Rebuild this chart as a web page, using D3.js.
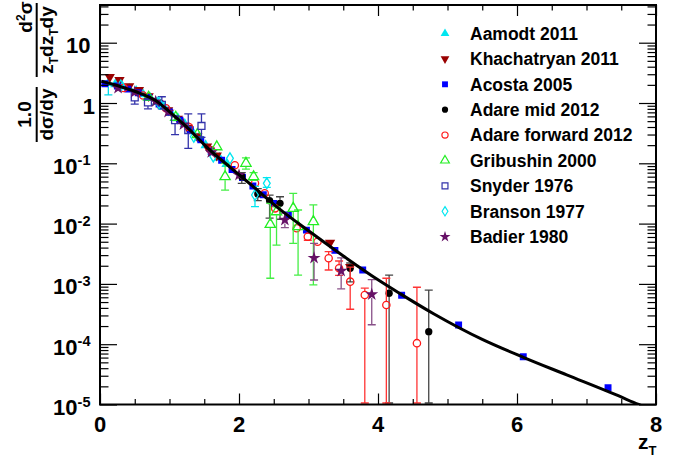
<!DOCTYPE html>
<html><head><meta charset="utf-8">
<script src="https://cdn.jsdelivr.net/npm/d3@7"></script>
<style>
body{margin:0;background:#fff}
svg{display:block}
text{font-family:"Liberation Sans",Arial,Helvetica,sans-serif;font-weight:bold;fill:#000}
</style>
</head><body>
<svg id="c" width="689" height="459"></svg>
<script>
// ---------- data ----------
const xMajorTicks = [0, 2, 4, 6, 8];
const xMinorTicks = [0.5, 1, 1.5, 2.5, 3, 3.5, 4.5, 5, 5.5, 6.5, 7, 7.5];
const yDecadeExps = [-5, -4, -3, -2, -1, 0, 1];
const legendNames = ["Aamodt 2011", "Khachatryan 2011", "Acosta 2005", "Adare mid 2012",
  "Adare forward 2012", "Gribushin 2000", "Snyder 1976", "Branson 1977", "Badier 1980"];

const fitZ = [0.02, 0.3, 0.576, 0.8, 1.055, 1.295, 1.535, 1.9, 2.206, 2.59, 3.0, 3.55, 4.0, 4.317, 4.8, 5.5, 6.1, 6.715, 7.43, 7.75, 7.9];
const fitV = [2.29, 1.86, 1.45, 1.10, 0.63, 0.356, 0.186, 0.081, 0.0409, 0.0172, 0.00759, 0.00265, 0.00117, 6.9e-4, 3.2e-4, 1.2e-4, 6.0e-5, 3.1e-5, 1.44e-5, 1.0e-5, 8.5e-6];

const aamodtZ  = [0.12, 0.22, 0.32, 0.42, 0.52, 0.62, 0.72, 0.82, 0.92, 1.02, 1.12, 1.22, 1.32, 1.42, 1.52, 1.62, 1.72, 1.82];
const aamodtV  = [2.15, 2.05, 1.9, 1.72, 1.58, 1.4, 1.22, 1.04, 0.86, 0.69, 0.56, 0.45, 0.35, 0.265, 0.2, 0.155, 0.123, 0.097];
const aamodtLo = [1.36, 1.9, 1.78, 1.62, 1.49, 1.32, 1.15, 0.98, 0.81, 0.65, 0.53, 0.425, 0.33, 0.25, 0.188, 0.145, 0.115, 0.09];
const aamodtHi = [2.4, 2.2, 2.02, 1.82, 1.67, 1.48, 1.29, 1.1, 0.91, 0.73, 0.59, 0.475, 0.37, 0.28, 0.212, 0.165, 0.131, 0.104];

const khachZ  = [0.14, 0.28, 0.42, 0.56, 0.70, 0.84, 0.98, 1.12, 1.26, 1.40, 1.54, 1.68, 3.31, 3.60];
const khachV  = [2.7, 2.4, 1.9, 1.64, 1.3, 1.0, 0.76, 0.55, 0.39, 0.28, 0.19, 0.135, 0.0048, 0.0019];
const khachLo = [2.45, 2.2, 1.75, 1.5, 1.2, 0.92, 0.7, 0.5, 0.36, 0.26, 0.175, 0.124, 0.0044, 0.0017];
const khachHi = [2.95, 2.6, 2.05, 1.78, 1.4, 1.08, 0.82, 0.6, 0.42, 0.3, 0.205, 0.146, 0.0052, 0.0021];

const acostaZ = [0.07, 0.25, 0.4, 0.55, 0.7, 0.85, 1.0, 1.15, 1.3, 1.45, 1.6, 1.75, 1.9, 2.05, 2.2, 2.35, 2.5, 2.71, 2.97, 3.38, 3.78, 4.34, 5.16, 6.09, 7.31];
const acostaV = [2.08, 1.92, 1.7, 1.48, 1.23, 0.96, 0.71, 0.52, 0.36, 0.245, 0.16, 0.112, 0.079, 0.058, 0.042, 0.030, 0.0215, 0.0139, 0.0078, 0.0036, 0.0017, 6.5e-4, 2.08e-4, 6.2e-5, 1.9e-5];

const adareMidZ  = [2.04, 2.27, 2.44, 2.59, 3.60, 4.16, 4.73];
const adareMidV  = [0.060, 0.031, 0.024, 0.0217, 0.00182, 7.0e-4, 1.61e-4];
const adareMidLo = [0.0466, 0.024, 0.0123, 0.0118, 0.00108, 1e-7, 1e-7];
const adareMidHi = [0.0698, 0.038, 0.0296, 0.0279, 0.00222, 1.4e-3, 7.9e-4];

const adareFwdZ  = [0.34, 0.62, 0.95, 1.28, 1.60, 1.94, 2.23, 2.37, 2.52, 2.83, 2.99, 3.13, 3.29, 3.44, 3.60, 3.81, 4.12, 4.56];
const adareFwdV  = [1.78, 1.33, 0.82, 0.40, 0.165, 0.093, 0.0466, 0.0318, 0.0179, 0.00836, 0.00607, 0.00501, 0.00266, 0.00182, 0.00109, 6.55e-4, 4.47e-4, 1.04e-4];
const adareFwdLo = [1.7, 1.27, 0.78, 0.38, 0.155, 0.085, 0.042, 0.028, 0.0158, 0.0074, 0.0053, 0.0044, 0.0017, 0.00139, 0.00038, 1e-7, 1e-7, 1e-7];
const adareFwdHi = [1.86, 1.39, 0.86, 0.42, 0.175, 0.101, 0.051, 0.036, 0.0200, 0.0094, 0.0069, 0.0057, 0.00343, 0.0024, 0.0019, 0.00085, 1.24e-3, 8.8e-4];

const gribZ  = [0.70, 1.09, 1.40, 1.68, 1.80, 2.10, 2.21, 2.45, 2.54, 2.78, 2.85, 3.07];
const gribV  = [1.25, 0.58, 0.30, 0.188, 0.060, 0.100, 0.060, 0.0097, 0.0157, 0.0179, 0.0089, 0.0108];
const gribLo = [1.15, 0.53, 0.27, 0.17, 0.036, 0.080, 0.052, 0.00124, 0.0044, 0.0047, 0.0014, 0.00096];
const gribHi = [1.35, 0.63, 0.33, 0.21, 0.10, 0.123, 0.07, 0.0217, 0.019, 0.0316, 0.0168, 0.0204];

const snyderZ  = [0.50, 0.69, 0.89, 1.08, 1.27, 1.46];
const snyderV  = [1.24, 1.02, 0.93, 0.52, 0.356, 0.416];
const snyderLo = [0.96, 0.80, 0.80, 0.30, 0.177, 0.27];
const snyderHi = [1.48, 1.18, 1.27, 0.61, 0.66, 0.66];

const bransonZ  = [0.30, 0.85, 1.35, 1.63, 1.87, 2.23, 2.40];
const bransonV  = [1.95, 1.0, 0.276, 0.13, 0.121, 0.0298, 0.0466];
const bransonLo = [1.85, 0.95, 0.26, 0.12, 0.11, 0.0191, 0.040];
const bransonHi = [2.05, 1.05, 0.29, 0.14, 0.13, 0.0413, 0.058];

const badierZ  = [0.26, 0.5, 0.8, 0.98, 1.2, 1.6, 2.0, 2.66, 3.08, 3.47, 3.91];
const badierV  = [1.77, 1.52, 1.06, 0.71, 0.44, 0.152, 0.064, 0.0115, 0.00269, 0.00164, 6.7e-4];
const badierLo = [1.68, 1.44, 1.0, 0.67, 0.41, 0.142, 0.058, 0.0086, 0.00116, 0.00083, 2.1e-4];
const badierHi = [1.86, 1.6, 1.12, 0.75, 0.47, 0.162, 0.07, 0.0149, 0.0047, 0.0027, 1.18e-3];

// ---------- setup ----------
const svg = d3.select("#c");
const L = 100, R = 656, T = 5, B = 404.5;
const x = d3.scaleLinear().domain([0, 8]).range([L, R]);
const y = d3.scaleLog().domain([1e-5, 42.2]).range([B, T]);

svg.append("defs").append("clipPath").attr("id", "clip")
  .append("rect").attr("x", L).attr("y", T).attr("width", R - L).attr("height", B - T);

const tri = d3.symbol().type(d3.symbolTriangle).size(46)();
const sq = d3.symbol().type(d3.symbolSquare).size(48)();
const circ = d3.symbol().type(d3.symbolCircle).size(42)();
const star = d3.symbol().type(d3.symbolStar).size(52)();
const diamond = "M0,-5.5L3.4,0L0,5.5L-3.4,0Z";

function zip(zs, vs, lo, hi) {
  return zs.map((z, i) => ({z, v: vs[i], lo: lo ? lo[i] : null, hi: hi ? hi[i] : null}));
}
const series = [
  {name: legendNames[0], d: zip(aamodtZ, aamodtV, aamodtLo, aamodtHi), path: tri, rot: 0, fill: "#00e6f0", stroke: "none", ecol: "#00d8e8"},
  {name: legendNames[1], d: zip(khachZ, khachV, khachLo, khachHi), path: tri, rot: 180, fill: "#990000", stroke: "none", ecol: "#993333"},
  {name: legendNames[2], d: zip(acostaZ, acostaV), path: sq, rot: 0, fill: "#0000ff", stroke: "none", ecol: "#0000ff"},
  {name: legendNames[3], d: zip(adareMidZ, adareMidV, adareMidLo, adareMidHi), path: circ, rot: 0, fill: "#000", stroke: "none", ecol: "#444"},
  {name: legendNames[4], d: zip(adareFwdZ, adareFwdV, adareFwdLo, adareFwdHi), path: circ, rot: 0, fill: "none", stroke: "#ff1a1a", ecol: "#ff3333"},
  {name: legendNames[5], d: zip(gribZ, gribV, gribLo, gribHi), path: tri, rot: 0, fill: "none", stroke: "#22ee22", ecol: "#44ee44"},
  {name: legendNames[6], d: zip(snyderZ, snyderV, snyderLo, snyderHi), path: sq, rot: 0, fill: "none", stroke: "#3333aa", ecol: "#3333aa"},
  {name: legendNames[7], d: zip(bransonZ, bransonV, bransonLo, bransonHi), path: diamond, rot: 0, fill: "none", stroke: "#00e6f0", ecol: "#00e6f0"},
  {name: legendNames[8], d: zip(badierZ, badierV, badierLo, badierHi), path: star, rot: 0, fill: "#661166", stroke: "none", ecol: "#885088"}
];

// ---------- data layer ----------
const plot = svg.append("g").attr("clip-path", "url(#clip)");
const yClamp = v => Math.min(B - 1.5, y(Math.max(v, 1e-6)));
series.forEach(s => {
  const g = plot.append("g");
  s.d.forEach(p => {
    if (p.lo == null) return;
    const cx = x(p.z), cy = y(p.v), yl = yClamp(p.lo), yh = y(p.hi);
    const gap = 3.5;
    if (cy - yh > gap) g.append("line").attr("x1", cx).attr("x2", cx).attr("y1", yh).attr("y2", cy - gap);
    if (yl - cy > gap) g.append("line").attr("x1", cx).attr("x2", cx).attr("y1", cy + gap).attr("y2", yl);
    if (cy - yh > gap) g.append("line").attr("x1", cx - 4).attr("x2", cx + 4).attr("y1", yh).attr("y2", yh);
    if (yl - cy > gap) g.append("line").attr("x1", cx - 4).attr("x2", cx + 4).attr("y1", yl).attr("y2", yl);
  });
  g.selectAll("line").attr("stroke", s.ecol).attr("stroke-width", 1.3);
  g.selectAll("path.m").data(s.d).join("path").attr("class", "m")
    .attr("d", s.path)
    .attr("transform", p => `translate(${x(p.z)},${y(p.v)}) rotate(${s.rot})`)
    .attr("fill", s.fill).attr("stroke", s.stroke).attr("stroke-width", 1.3);
});

// fit curve
const fitData = fitZ.map((z, i) => [z, fitV[i]]);
plot.append("path").datum(fitData)
  .attr("d", d3.line().x(d => x(d[0])).y(d => y(d[1])).curve(d3.curveMonotoneX))
  .attr("fill", "none").attr("stroke", "#000").attr("stroke-width", 3);

// ---------- axes ----------
const yMinor = [];
yDecadeExps.forEach(e => { for (let k = 2; k <= 9; k++) { const v = k * Math.pow(10, e); if (v < 42.2) yMinor.push(v); } });
const yMajor = yDecadeExps.map(e => Math.pow(10, e));

function axisG(axis, tx, ty) {
  const g = svg.append("g").attr("transform", `translate(${tx},${ty})`).call(axis);
  g.select(".domain").remove();
  g.selectAll("line").attr("stroke", "#000").attr("stroke-width", 1.2);
  g.selectAll("text").remove();
  return g;
}
axisG(d3.axisBottom(x).tickValues(xMajorTicks).tickSizeInner(-11).tickSizeOuter(0), 0, B);
axisG(d3.axisBottom(x).tickValues(xMinorTicks).tickSizeInner(-5.5).tickSizeOuter(0), 0, B);
axisG(d3.axisTop(x).tickValues(xMajorTicks).tickSizeInner(-11).tickSizeOuter(0), 0, T);
axisG(d3.axisTop(x).tickValues(xMinorTicks).tickSizeInner(-5.5).tickSizeOuter(0), 0, T);
axisG(d3.axisLeft(y).tickValues(yMajor).tickSizeInner(-17).tickSizeOuter(0), L, 0);
axisG(d3.axisLeft(y).tickValues(yMinor).tickSizeInner(-8.5).tickSizeOuter(0), L, 0);
axisG(d3.axisRight(y).tickValues(yMajor).tickSizeInner(-17).tickSizeOuter(0), R, 0);
axisG(d3.axisRight(y).tickValues(yMinor).tickSizeInner(-8.5).tickSizeOuter(0), R, 0);

svg.append("rect").attr("x", L).attr("y", T).attr("width", R - L).attr("height", B - T)
  .attr("fill", "none").attr("stroke", "#000").attr("stroke-width", 2);

// x labels
svg.append("g").selectAll("text").data(xMajorTicks).join("text")
  .attr("x", d => x(d)).attr("y", 431.5).attr("text-anchor", "middle")
  .attr("font-size", 22).text(d => d);

// y labels
const yl = svg.append("g");
yDecadeExps.forEach(e => {
  const ty = y(Math.pow(10, e)) + 10.5;
  if (e === 0) {
    yl.append("text").attr("x", 95).attr("y", ty).attr("text-anchor", "end").attr("font-size", 22).text("1");
  } else if (e === 1) {
    yl.append("text").attr("x", 90.5).attr("y", ty).attr("text-anchor", "end").attr("font-size", 22).text("10");
  } else {
    const t = yl.append("text").attr("x", 90.5).attr("y", ty).attr("text-anchor", "end").attr("font-size", 22);
    t.append("tspan").text("10");
    t.append("tspan").attr("dy", -8.5).attr("font-size", 14.5).text(String(e).replace("-", "-"));
  }
});

// x title
const xt = svg.append("text").attr("x", 638).attr("y", 448.5).attr("font-size", 21);
xt.append("tspan").text("z");
xt.append("tspan").attr("dy", 6.5).attr("font-size", 13).text("T");

// y title (two rotated fractions)
function vtext(tx, ty, size) {
  return svg.append("text").attr("transform", `translate(${tx},${ty}) rotate(-90)`)
    .attr("text-anchor", "middle").attr("font-size", size);
}
// fraction 1: d^2 sigma / z_T dz_T dy
const n1 = vtext(31.5, 17, 19);
n1.append("tspan").text("d");
n1.append("tspan").attr("dy", -7).attr("font-size", 12).text("2");
n1.append("tspan").attr("dy", 7).text("σ");
svg.append("line").attr("x1", 36.7).attr("x2", 36.7).attr("y1", 3).attr("y2", 77).attr("stroke", "#000").attr("stroke-width", 2);
const d1 = vtext(53, 40, 19);
d1.append("tspan").text("z");
d1.append("tspan").attr("dy", 5).attr("font-size", 12).text("T");
d1.append("tspan").attr("dy", -5).text("dz");
d1.append("tspan").attr("dy", 5).attr("font-size", 12).text("T");
d1.append("tspan").attr("dy", -5).text("dy");
// fraction 2: 1.0 / dsigma/dy
vtext(30.5, 114.5, 19).text("1.0");
svg.append("line").attr("x1", 36.7).attr("x2", 36.7).attr("y1", 87).attr("y2", 142).attr("stroke", "#000").attr("stroke-width", 2);
vtext(53, 114.5, 19).text("dσ/dy");

// ---------- legend ----------
const lg = svg.append("g");
series.forEach((s, i) => {
  const ly = 33.5 + 25.4 * i;
  lg.append("path").attr("d", s.path).attr("transform", `translate(445,${ly}) rotate(${s.rot}) scale(0.85)`)
    .attr("fill", s.fill).attr("stroke", s.stroke).attr("stroke-width", 1.4);
  lg.append("text").attr("x", 470).attr("y", ly + 6.3).attr("font-size", 17.5).text(s.name);
});
</script>
</body></html>
